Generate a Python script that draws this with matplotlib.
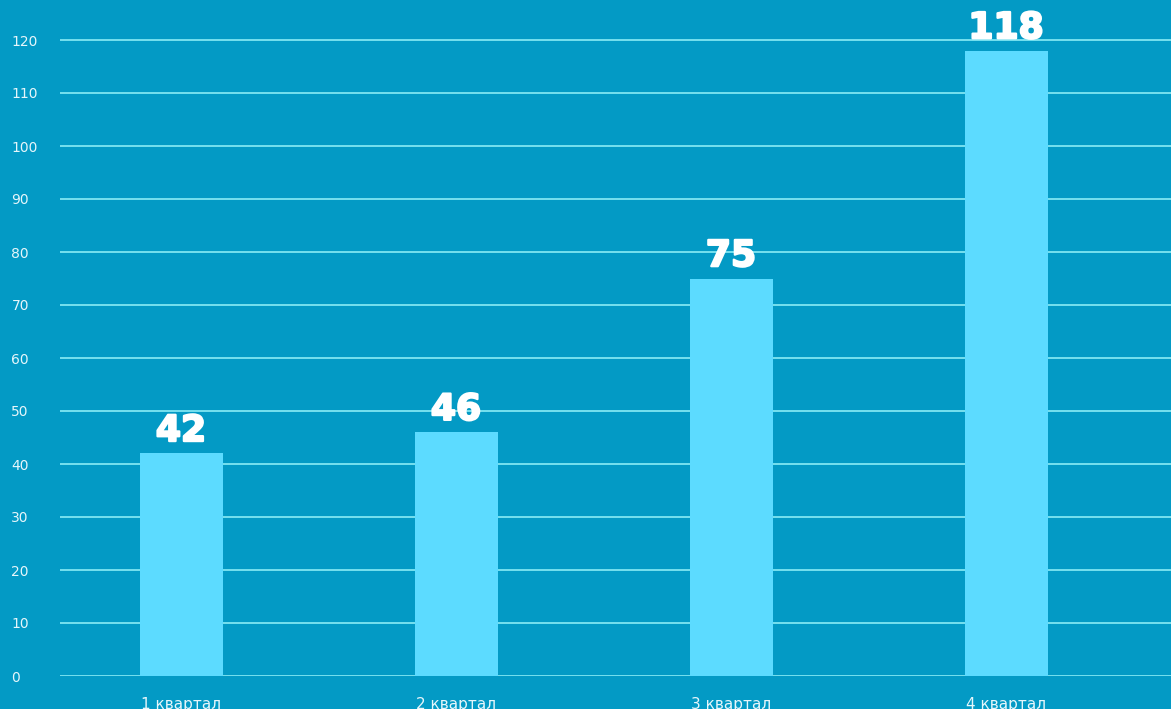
import matplotlib

matplotlib.use("Agg")
import matplotlib.pyplot as plt  # noqa: E402
import matplotlib.patheffects as pe  # noqa: E402
import numpy as np  # noqa: E402

# data
quarters = ["1 квартал", "2 квартал", "3 квартал", "4 квартал"]
values = [42, 46, 75, 118]
yticks = list(range(0, 121, 10))

BG = "#039ac5"
BAR = "#5cdbff"
GRID = "#80e6f2"
TXT = "#e6f6fb"

W, H = 1171, 709
fig = plt.figure(figsize=(W / 100, H / 100), dpi=100, facecolor=BG)
# axes: left edge at x=60px, zero line at y=676px, 5.3 px per unit
ax = fig.add_axes([60 / W, (H - 676) / H, 1 - 60 / W, 676 / H])
ax.set_facecolor(BG)

px_per_unit = 5.3
ax.set_ylim(0, 676 / px_per_unit)
# category centres ~275 px apart, first at x=181px
slot = 275.0
ax.set_xlim((60 - 181) / slot, (W - 181) / slot)

xs = np.arange(len(quarters))
for y in yticks:
    ax.axhline(y, color=GRID, lw=1.3, zorder=1)
ax.bar(xs, values, width=83 / slot, color=BAR, zorder=2)

# heavy value labels (stroke thickens the bold face)
heavy = [pe.withStroke(linewidth=1.6, foreground="white")]
for x, v in zip(xs, values):
    ax.text(x, v + 1.0, str(v), ha="center", va="bottom", fontsize=26,
            fontweight="bold", color="white", zorder=3, clip_on=False,
            path_effects=heavy)

for s in ax.spines.values():
    s.set_visible(False)

ax.set_yticks(yticks)
ax.set_yticklabels([str(t) for t in yticks])
for lbl in ax.get_yticklabels():
    lbl.set_horizontalalignment("left")
ax.tick_params(axis="y", length=0, pad=35, labelsize=10, labelcolor=TXT)

ax.set_xticks(xs)
ax.set_xticklabels(quarters)
ax.tick_params(axis="x", length=0, pad=15, labelsize=11, labelcolor=TXT)

fig.savefig("out.png", dpi=100, facecolor=BG)
